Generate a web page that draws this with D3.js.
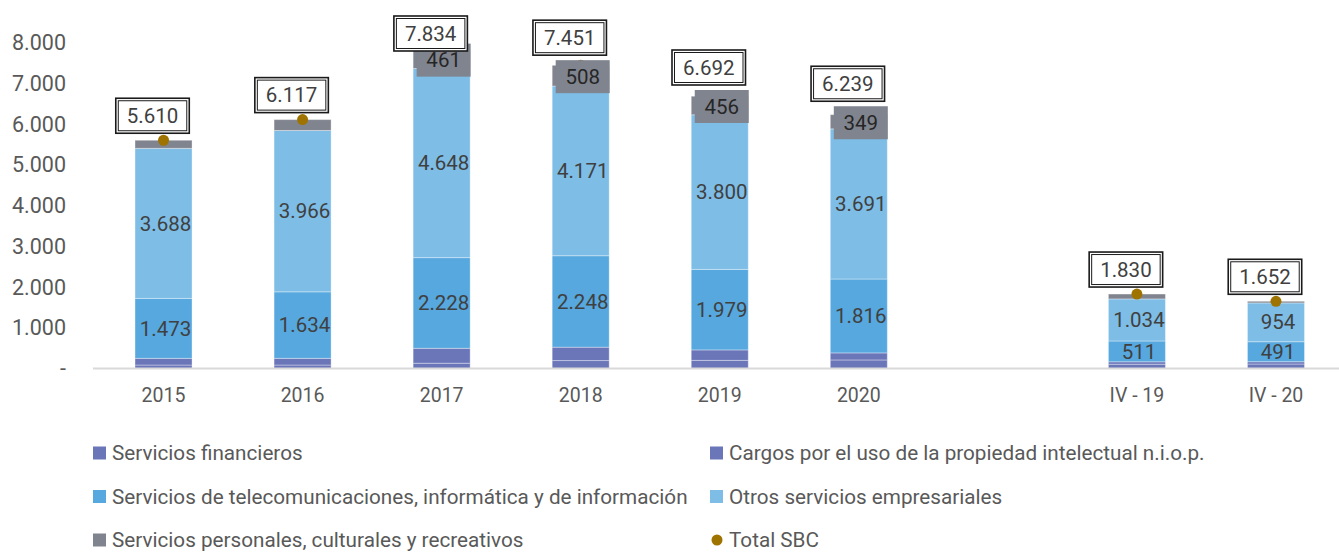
<!DOCTYPE html>
<html>
<head>
<meta charset="utf-8">
<script src="https://cdn.jsdelivr.net/npm/d3@7"></script>
<style>
  body { margin: 0; background: #fff; }
  text { font-family: Roboto, "Noto Sans", sans-serif; }
</style>
</head>
<body>
<div id="chart"></div>
<script>
// Servicios basados en conocimiento (SBC), stacked by rubro
const categories = ["2015", "2016", "2017", "2018", "2019", "2020", "", "IV - 19", "IV - 20"];
const financieros = [85, 85, 130, 195, 200, 210, 0, 105, 110];
const cargos = [165, 165, 367, 329, 257, 173, 0, 60, 57];
const telecom = [1473, 1634, 2228, 2248, 1979, 1816, 0, 511, 491];
const otros = [3688, 3966, 4648, 4171, 3800, 3691, 0, 1034, 954];
const personales = [199, 267, 461, 508, 456, 349, 0, 120, 40];
const totalSBC = [5610, 6117, 7834, 7451, 6692, 6239, null, 1830, 1652];
const yTicks = [0, 1000, 2000, 3000, 4000, 5000, 6000, 7000, 8000];

const seriesKeys = ["financieros", "cargos", "telecom", "otros", "personales"];
const seriesNames = {
  financieros: "Servicios financieros",
  cargos: "Cargos por el uso de la propiedad intelectual n.i.o.p.",
  telecom: "Servicios de telecomunicaciones, informática y de información",
  otros: "Otros servicios empresariales",
  personales: "Servicios personales, culturales y recreativos"
};
const colors = {
  financieros: "#6b76b9",
  cargos: "#6b76b9",
  telecom: "#56a8df",
  otros: "#7dbde6",
  personales: "#80848e"
};
const dotColor = "#9e7300";

let svgWidth = 1339;
let svgHeight = 552;

const locale = d3.formatLocale({ decimal: ",", thousands: ".", grouping: [3], currency: ["$", ""] });
const fmt = locale.format(",");

let svg = d3.select("#chart")
  .append("svg")
  .attr("width", svgWidth)
  .attr("height", svgHeight);

// table for the stack
let rows = categories.map((c, i) => ({
  cat: c,
  financieros: financieros[i],
  cargos: cargos[i],
  telecom: telecom[i],
  otros: otros[i],
  personales: personales[i],
  total: totalSBC[i]
}));

let stacked = d3.stack().keys(seriesKeys)(rows);

// scales
let xScale = d3.scaleBand()
  .domain(categories)
  .range([94, 1345.5])
  .paddingInner(0.59)
  .paddingOuter(0.295);

let yScale = d3.scaleLinear()
  .domain([0, 8000])
  .range([368.5, 43]);

// y axis labels (no line)
let yAxis = d3.axisLeft(yScale)
  .tickValues(yTicks)
  .tickSize(0)
  .tickPadding(0)
  .tickFormat(d => d === 0 ? "-" : fmt(d));

let yG = svg.append("g")
  .attr("transform", "translate(66,0)")
  .call(yAxis);
yG.select(".domain").remove();
yG.selectAll("text")
  .attr("font-size", "21.5px")
  .attr("fill", "#595959")
  .attr("font-family", "Roboto, sans-serif");

// x axis
let xAxis = d3.axisBottom(xScale)
  .tickSize(0)
  .tickPadding(20);

let xG = svg.append("g")
  .attr("transform", `translate(0, ${yScale(0)})`)
  .call(xAxis);
xG.select(".domain").remove();
xG.selectAll("text")
  .attr("font-size", "19.5px")
  .attr("fill", "#595959")
  .attr("font-family", "Roboto, sans-serif");

// bars
let layers = svg.append("g").selectAll("g.layer")
  .data(stacked)
  .enter()
  .append("g")
  .attr("class", "layer")
  .attr("fill", d => colors[d.key]);

layers.selectAll("rect")
  .data(d => d.filter(p => p.data.cat !== ""))
  .enter()
  .append("rect")
  .attr("x", d => xScale(d.data.cat))
  .attr("width", xScale.bandwidth())
  .attr("y", d => yScale(d[1]))
  .attr("height", d => yScale(d[0]) - yScale(d[1]))
  .attr("stroke", "rgba(255,255,255,0.35)")
  .attr("stroke-width", 1);

// baseline
svg.append("line")
  .attr("x1", 93).attr("x2", svgWidth)
  .attr("y1", yScale(0)).attr("y2", yScale(0))
  .attr("stroke", "#d9d9d9")
  .attr("stroke-width", 2);

// total dots
let totals = rows.filter(r => r.total != null);
svg.append("g").selectAll("circle")
  .data(totals)
  .enter()
  .append("circle")
  .attr("cx", d => xScale(d.cat) + xScale.bandwidth() / 2)
  .attr("cy", d => yScale(d.total))
  .attr("r", 5.5)
  .attr("fill", dotColor);

// labels inside segments
let labelG = svg.append("g");
["telecom", "otros"].forEach(key => {
  let layer = stacked.find(s => s.key === key);
  labelG.selectAll("text." + key)
    .data(layer.filter(p => p.data.cat !== ""))
    .enter()
    .append("text")
    .attr("class", key)
    .attr("x", d => xScale(d.data.cat) + xScale.bandwidth() / 2 + 2)
    .attr("y", d => (yScale(d[0]) + yScale(d[1])) / 2)
    .attr("dy", "0.35em")
    .attr("text-anchor", "middle")
    .attr("font-size", "20.5px")
    .attr("fill", "#404040")
    .text(d => fmt(d.data[key]));
});

// personales labels with grey box (only the larger ones)
let persLayer = stacked.find(s => s.key === "personales");
let persLabeled = persLayer.filter(p => p.data.cat !== "" && p.data.personales > 300);
let boxH = 33, boxW = 54;
let persG = svg.append("g").selectAll("g")
  .data(persLabeled)
  .enter()
  .append("g")
  .attr("transform", d => `translate(${xScale(d.data.cat) + xScale.bandwidth() / 2 + 2}, ${(yScale(d[0]) + yScale(d[1])) / 2 + 1})`);
persG.append("rect")
  .attr("x", -boxW / 2).attr("y", -boxH / 2)
  .attr("width", boxW).attr("height", boxH)
  .attr("fill", colors.personales);
persG.append("text")
  .attr("text-anchor", "middle")
  .attr("dy", "0.35em")
  .attr("font-size", "20.5px")
  .attr("fill", "#262626")
  .text(d => fmt(d.data.personales));

// total labels in double-bordered boxes
let totG = svg.append("g").selectAll("g")
  .data(totals)
  .enter()
  .append("g");

totG.each(function(d) {
  let g = d3.select(this);
  let cx = xScale(d.cat) + xScale.bandwidth() / 2 - 11;
  let t = g.append("text")
    .attr("text-anchor", "middle")
    .attr("font-size", "20.5px")
    .attr("fill", "#404040")
    .text(fmt(d.total));
  let w = t.node().getComputedTextLength() + 22;
  let h = 35;
  let bottom = yScale(d.total) - 7;
  if (d.personales > 300) {
    let segMid = (yScale(d.total) + yScale(d.total - d.personales)) / 2 + 1;
    bottom = Math.min(bottom, segMid - boxH / 2 - 5);
  }
  let top = Math.max(16, bottom - h);
  g.insert("rect", "text")
    .attr("x", cx - w / 2).attr("y", top)
    .attr("width", w).attr("height", h)
    .attr("fill", "#fff")
    .attr("stroke", "#1a1a1a")
    .attr("stroke-width", 1.6);
  g.insert("rect", "text")
    .attr("x", cx - w / 2 + 2.5).attr("y", top + 2.5)
    .attr("width", w - 5).attr("height", h - 5)
    .attr("fill", "none")
    .attr("stroke", "#1a1a1a")
    .attr("stroke-width", 1);
  t.attr("x", cx).attr("y", top + h / 2).attr("dy", "0.35em");
});

// legend
let legendItems = [
  { key: "financieros", col: 0, row: 0 },
  { key: "cargos", col: 1, row: 0 },
  { key: "telecom", col: 0, row: 1 },
  { key: "otros", col: 1, row: 1 },
  { key: "personales", col: 0, row: 2 },
  { key: "total", col: 1, row: 2 }
];
let colX = [93, 710];
let rowY = [453, 496.5, 540];

let legend = svg.append("g").selectAll("g")
  .data(legendItems)
  .enter()
  .append("g")
  .attr("transform", d => `translate(${colX[d.col]}, ${rowY[d.row]})`);

legend.filter(d => d.key !== "total")
  .append("rect")
  .attr("x", 0).attr("y", -6.5)
  .attr("width", 13).attr("height", 13)
  .attr("fill", d => colors[d.key]);

legend.filter(d => d.key === "total")
  .append("circle")
  .attr("cx", 7).attr("cy", 0).attr("r", 5.5)
  .attr("fill", dotColor);

legend.append("text")
  .attr("x", 19)
  .attr("dy", "0.35em")
  .attr("font-size", "20.7px")
  .attr("fill", "#595959")
  .text(d => d.key === "total" ? "Total SBC" : seriesNames[d.key]);
</script>
</body>
</html>
